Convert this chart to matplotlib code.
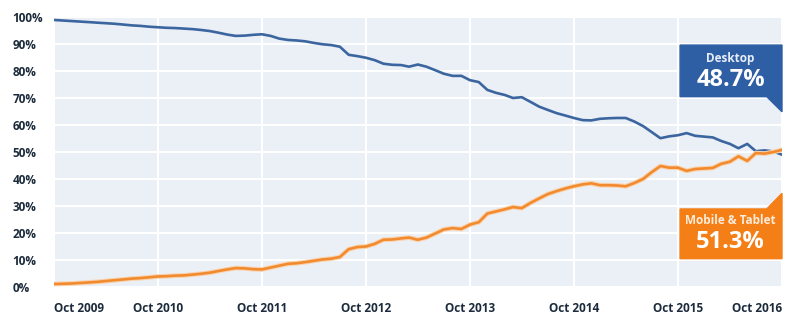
import pandas as pd
import matplotlib.pyplot as plt
import matplotlib.dates as mdates
import matplotlib.patheffects as pe
from matplotlib.patches import Polygon

# --- data: monthly share of page views, Oct 2009 .. Oct 2016 ---
months = pd.date_range("2009-10-01", "2016-10-01", freq="MS")

desktop = [
    98.9, 98.7, 98.5, 98.3, 98.1, 97.9, 97.7, 97.5, 97.2, 96.9,
    96.7, 96.4, 96.2, 96.0, 95.9, 95.7, 95.5, 95.2, 94.8, 94.2,
    93.5, 93.0, 93.1, 93.4, 93.6, 93.0, 92.0, 91.5, 91.3, 91.0,
    90.4, 89.9, 89.6, 89.0, 86.0, 85.5, 84.9, 84.0, 82.7, 82.3,
    82.2, 81.6, 82.4, 81.6, 80.3, 79.0, 78.2, 78.2, 76.6, 75.9,
    73.0, 71.9, 71.1, 70.0, 70.3, 68.6, 66.8, 65.6, 64.4, 63.5,
    62.6, 61.8, 61.7, 62.3, 62.5, 62.6, 62.6, 61.3, 59.6, 57.4,
    55.1, 55.8, 56.2, 57.0, 56.0, 55.7, 55.4, 54.1, 53.0, 51.4,
    53.0, 50.3, 50.6, 50.2, 49.0,
]
mobile = [
    1.1, 1.2, 1.3, 1.5, 1.7, 1.9, 2.2, 2.5, 2.8, 3.1,
    3.3, 3.6, 3.9, 4.0, 4.2, 4.3, 4.6, 4.9, 5.3, 5.9,
    6.5, 7.0, 6.9, 6.6, 6.5, 7.2, 7.9, 8.6, 8.8, 9.2,
    9.7, 10.2, 10.5, 11.1, 14.0, 14.8, 15.0, 16.0, 17.5, 17.6,
    18.0, 18.3, 17.5, 18.3, 19.8, 21.3, 21.8, 21.5, 23.1, 24.0,
    27.2, 28.0, 28.8, 29.6, 29.2, 31.1, 32.8, 34.4, 35.5, 36.5,
    37.3, 38.0, 38.4, 37.7, 37.7, 37.6, 37.3, 38.5, 40.0, 42.5,
    44.8, 44.2, 44.2, 43.0, 43.7, 43.9, 44.1, 45.6, 46.4, 48.4,
    46.7, 49.6, 49.4, 50.0, 50.8,
]
final_labels = ["Desktop", "Mobile & Tablet"]
final_values = ["48.7%", "51.3%"]

BLUE = "#3b659f"
ORANGE = "#f28b30"
BOX_BLUE = "#2e5fa5"
BOX_ORANGE = "#f57f17"
TEXT = "#1c2b3c"
FONT = ["Open Sans", "DejaVu Sans"]

plt.rcParams["font.family"] = FONT

fig = plt.figure(figsize=(7.95, 3.23), dpi=100)
ax = fig.add_axes([54 / 795, 36 / 323, 728 / 795, 270 / 323])
ax.set_facecolor("#ebeff6")

ax.plot(months, desktop, color=BLUE, lw=1.9, solid_capstyle="round", zorder=3)
ax.plot(months, mobile, color=ORANGE, lw=1.9, solid_capstyle="round", zorder=3,
        path_effects=[pe.Stroke(linewidth=3.4, foreground="#f9d3ad"), pe.Normal()])

ax.set_xlim(months[0], months[-1])
ax.set_ylim(0, 100)

# --- axes, ticks, grid ---
ax.set_yticks(range(0, 101, 10))
ax.set_yticklabels([f"{v}%" for v in range(0, 101, 10)])
ax.xaxis.set_major_locator(mdates.MonthLocator(bymonth=10))
ax.xaxis.set_major_formatter(mdates.DateFormatter("Oct %Y"))

ax.tick_params(axis="y", length=0, pad=30, labelsize=8.5, labelcolor=TEXT)
ax.tick_params(axis="x", length=0, pad=11, labelsize=8.5, labelcolor=TEXT)
for lab in ax.get_yticklabels():
    lab.set_fontweight("bold")
    lab.set_ha("left")
xlabs = ax.get_xticklabels()
for lab in xlabs:
    lab.set_fontweight("bold")
xlabs[0].set_ha("left")
xlabs[-1].set_ha("right")

ax.grid(True, color="white", lw=1.5, zorder=1)
ax.set_axisbelow(True)
for s in ax.spines.values():
    s.set_visible(False)

# --- callout boxes on the right ---
x0, xt, x1 = 0.860, 0.979, 1.0
desk_box = Polygon([(x0, 0.896), (x1, 0.896), (x1, 0.649), (xt, 0.705), (x0, 0.705)],
                   closed=True, transform=ax.transAxes, color=BOX_BLUE, zorder=5, clip_on=False)
mob_box = Polygon([(x0, 0.289), (xt, 0.289), (x1, 0.347), (x1, 0.105), (x0, 0.105)],
                  closed=True, transform=ax.transAxes, color=BOX_ORANGE, zorder=5, clip_on=False)
ax.add_patch(desk_box)
ax.add_patch(mob_box)

xc = 0.9295
ax.text(xc, 0.847, final_labels[0], transform=ax.transAxes, ha="center", va="center",
        color="#e8eef8", fontsize=8.5, fontweight="bold", zorder=6)
ax.text(xc, 0.767, final_values[0], transform=ax.transAxes, ha="center", va="center",
        color="white", fontsize=17, fontweight="bold", zorder=6)
ax.text(xc, 0.2456, final_labels[1], transform=ax.transAxes, ha="center", va="center",
        color="#fdebd9", fontsize=8.5, fontweight="bold", zorder=6)
ax.text(xc, 0.168, final_values[1], transform=ax.transAxes, ha="center", va="center",
        color="white", fontsize=17, fontweight="bold", zorder=6)

fig.savefig("out.png", dpi=100, facecolor="white")
